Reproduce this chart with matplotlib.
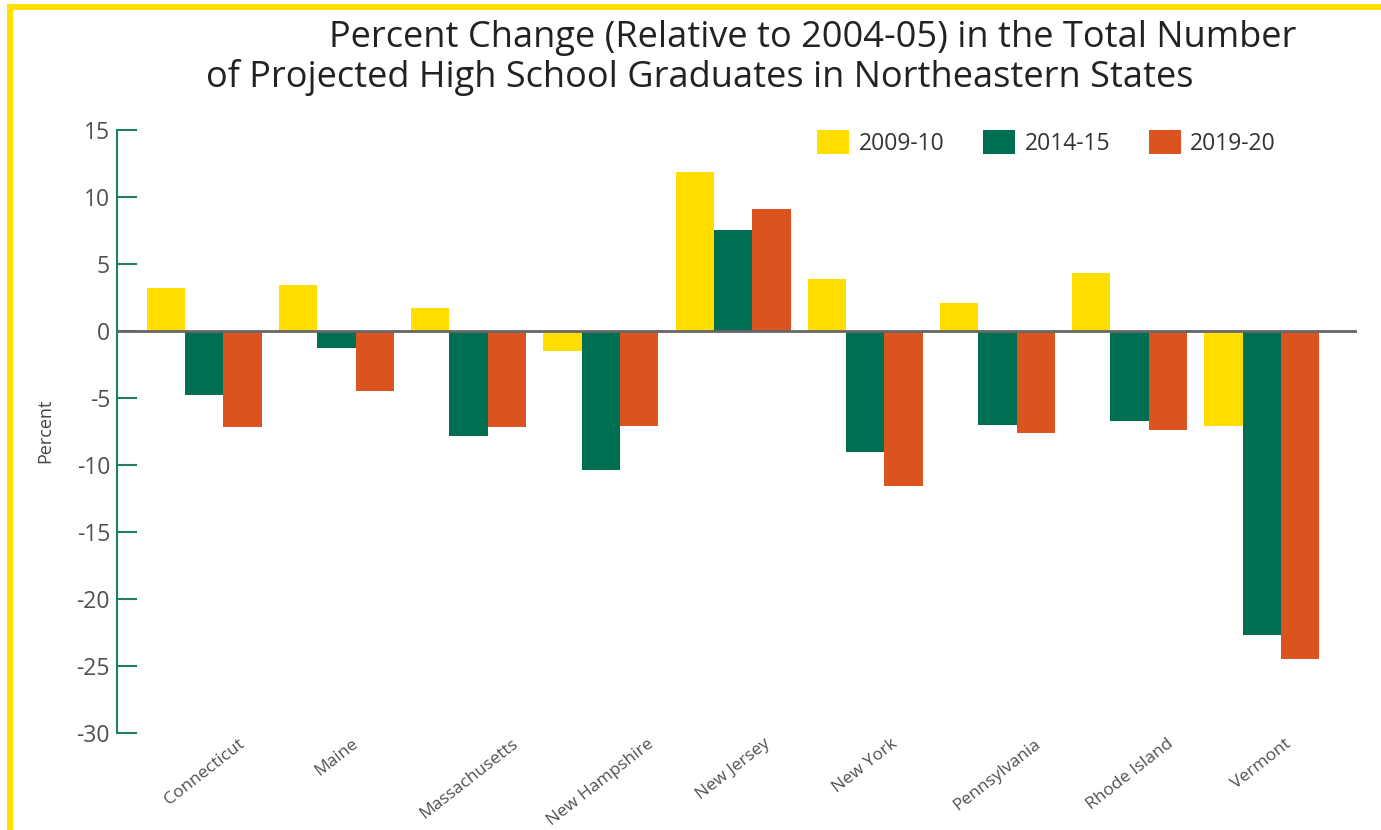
import matplotlib

matplotlib.use("Agg")

import matplotlib.pyplot as plt  # noqa: E402
import numpy as np  # noqa: E402
from matplotlib.patches import Rectangle  # noqa: E402

# ---------------------------------------------------------------------------
# Data (percent change relative to 2004-05)
# ---------------------------------------------------------------------------
states = [
    "Connecticut", "Maine", "Massachusetts", "New Hampshire", "New Jersey",
    "New York", "Pennsylvania", "Rhode Island", "Vermont",
]
series_labels = ["2009-10", "2014-15", "2019-20"]
pct_2009_10 = [3.2, 3.4, 1.7, -1.5, 11.9, 3.9, 2.1, 4.3, -7.1]
pct_2014_15 = [-4.8, -1.3, -7.8, -10.4, 7.5, -9.0, -7.0, -6.7, -22.7]
pct_2019_20 = [-7.2, -4.5, -7.2, -7.1, 9.1, -11.6, -7.6, -7.4, -24.5]
y_ticks = [15, 10, 5, 0, -5, -10, -15, -20, -25, -30]

colors = ["#FFDE00", "#006F51", "#D9541E"]
axis_green = "#1F7F5F"
text_grey = "#505050"

plt.rcParams["font.family"] = ["Open Sans", "DejaVu Sans"]

W, H = 1381, 830
fig = plt.figure(figsize=(W / 100, H / 100), dpi=100)
ax = fig.add_axes([117 / W, 1 - 733 / H, (1357 - 117) / W, (733 - 130) / H])

x = np.arange(len(states))
width = 0.29
for i, (vals, lab) in enumerate(zip([pct_2009_10, pct_2014_15, pct_2019_20], series_labels)):
    ax.bar(x + (i - 1) * width, vals, width, color=colors[i], label=lab, zorder=2)

ax.axhline(0, color="#666666", lw=2, zorder=3)

ax.set_xlim(-0.66, 8.72)
ax.set_ylim(-30, 15)
ax.set_yticks(y_ticks)
ax.set_yticklabels([str(v) for v in y_ticks])
ax.set_xticks(x)
ax.set_xticklabels(states, rotation=38, ha="center", fontsize=12.5, color=text_grey)

for side in ["top", "right", "bottom"]:
    ax.spines[side].set_visible(False)
ax.spines["left"].set_color(axis_green)
ax.spines["left"].set_linewidth(1.5)
ax.tick_params(axis="y", direction="in", length=14.5, width=1.5, color=axis_green,
               labelsize=16.5, labelcolor=text_grey, pad=5)
ax.tick_params(axis="x", length=0, pad=2)

# y label in narrow face
fig.text(45 / W, 1 - 431 / H, "Percent", rotation=90, ha="center", va="center",
         fontsize=13, color="#444444",
         family=["Liberation Sans Narrow", "Open Sans", "DejaVu Sans"])

# legend across the top right
ax.legend(loc="center right", bbox_to_anchor=(1276 / W, 1 - 143 / H),
          bbox_transform=fig.transFigure, ncol=3, frameon=False, fontsize=16.5,
          handlelength=1.4, handleheight=1.2, handletextpad=0.4,
          columnspacing=1.7, borderpad=0, borderaxespad=0, labelcolor="#333333")

# two-line title, each line placed separately
fig.text(813 / W, 1 - 38 / H, "Percent Change (Relative to 2004-05) in the Total Number",
         ha="center", va="center", fontsize=26, color="#222222")
fig.text(700 / W, 1 - 78 / H, "of Projected High School Graduates in Northeastern States",
         ha="center", va="center", fontsize=26, color="#222222")

# yellow frame on top and left
fig.add_artist(Rectangle((7 / W, 1 - 10 / H), 1 - 7 / W, 6 / H, transform=fig.transFigure,
                         color="#FFE000", lw=0))
fig.add_artist(Rectangle((7 / W, 0), 6 / W, 1 - 4 / H, transform=fig.transFigure,
                         color="#FFE000", lw=0))

fig.savefig("out.png", dpi=100)
plt.close(fig)
